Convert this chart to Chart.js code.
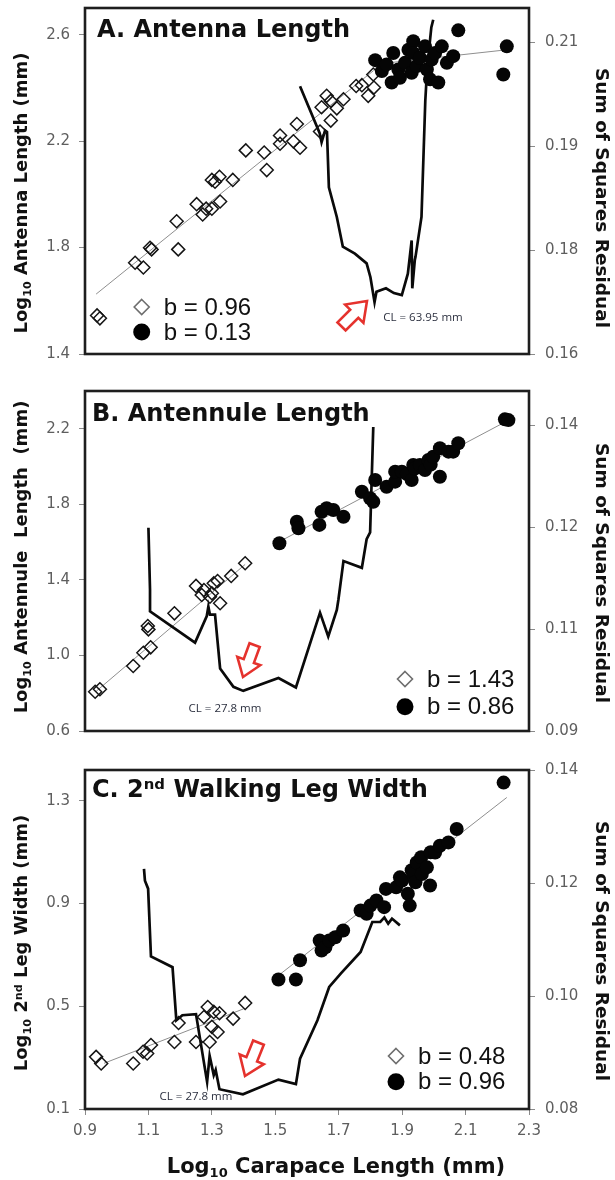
<!DOCTYPE html>
<html>
<head>
<meta charset="utf-8">
<script src="https://cdn.jsdelivr.net/npm/chart.js@4.4.1/dist/chart.umd.min.js"></script>
<style>
  body { margin: 0; background: #fff; }
  #wrap { position: relative; width: 615px; height: 1180px; }
  canvas { position: absolute; left: 0; }
</style>
</head>
<body>
<div id="wrap">
  <canvas id="chartA" width="615" height="370" style="top:0"></canvas>
  <canvas id="chartB" width="615" height="370" style="top:375px"></canvas>
  <canvas id="chartC" width="615" height="425" style="top:755px"></canvas>
</div>
<script>
// shared x axis (log10 carapace length)
const xTicks = [0.9, 1.1, 1.3, 1.5, 1.7, 1.9, 2.1, 2.3]

// A. Antenna length
const aDiamondX = [0.938, 0.947, 1.058, 1.084, 1.105, 1.110, 1.189, 1.194, 1.252, 1.271, 1.282, 1.300, 1.326, 1.300, 1.310, 1.324, 1.366, 1.407, 1.465, 1.473, 1.515, 1.515, 1.557, 1.568, 1.578, 1.641, 1.646, 1.662, 1.675, 1.675, 1.694, 1.715, 1.755, 1.773, 1.793, 1.811, 1.809]
const aDiamondY = [1.545, 1.534, 1.743, 1.725, 1.799, 1.793, 1.899, 1.793, 1.963, 1.924, 1.946, 1.946, 1.973, 2.054, 2.047, 2.066, 2.054, 2.165, 2.157, 2.091, 2.221, 2.190, 2.199, 2.264, 2.175, 2.236, 2.327, 2.370, 2.351, 2.277, 2.323, 2.357, 2.407, 2.410, 2.370, 2.401, 2.450]
const aCircleX = [1.815, 1.836, 1.851, 1.867, 1.872, 1.888, 1.893, 1.909, 1.920, 1.935, 1.930, 1.935, 1.946, 1.956, 1.972, 1.978, 1.988, 1.993, 2.004, 2.014, 2.025, 2.041, 2.061, 2.077, 2.230, 2.219]
const aCircleY = [2.504, 2.463, 2.488, 2.420, 2.531, 2.469, 2.438, 2.494, 2.543, 2.575, 2.457, 2.531, 2.482, 2.513, 2.556, 2.469, 2.432, 2.506, 2.531, 2.420, 2.556, 2.494, 2.519, 2.616, 2.556, 2.450]
const aResidX = [1.578, 1.640, 1.646, 1.657, 1.663, 1.669, 1.694, 1.713, 1.751, 1.788, 1.800, 1.813, 1.819, 1.849, 1.874, 1.899, 1.918, 1.924, 1.930, 1.932, 1.940, 1.942, 1.961, 1.973, 1.979, 1.992, 1.998]
const aResidY = [0.1987, 0.1919, 0.1906, 0.1923, 0.1921, 0.1841, 0.1798, 0.1755, 0.1745, 0.1731, 0.1711, 0.1675, 0.1690, 0.1695, 0.1688, 0.1685, 0.1716, 0.1740, 0.1764, 0.1695, 0.1736, 0.1740, 0.1798, 0.1966, 0.2014, 0.2072, 0.2083]
const aFitDiamond = [[0.935, 1.625], [1.81, 2.465]]
const aFitCircle = [[1.81, 2.488], [2.23, 2.543]]
const aLeftTicks = [1.4, 1.8, 2.2, 2.6]
const aLeftLabels = ['1.4', '1.8', '2.2', '2.6']
const aRightTicks = [0.16, 0.175, 0.19, 0.205]
const aRightLabels = ['0.16', '0.18', '0.19', '0.21']

// B. Antennule length
const bDiamondX = [0.932, 0.947, 1.052, 1.084, 1.107, 1.100, 1.098, 1.182, 1.250, 1.268, 1.294, 1.326, 1.275, 1.300, 1.306, 1.318, 1.361, 1.405]
const bDiamondY = [0.808, 0.821, 0.944, 1.014, 1.043, 1.138, 1.156, 1.223, 1.368, 1.320, 1.311, 1.276, 1.346, 1.329, 1.382, 1.394, 1.421, 1.488]
const bCircleX = [1.513, 1.568, 1.573, 1.639, 1.646, 1.662, 1.683, 1.715, 1.773, 1.799, 1.809, 1.815, 1.851, 1.878, 1.878, 1.899, 1.915, 1.930, 1.935, 1.940, 1.956, 1.972, 1.983, 1.990, 1.998, 2.019, 2.019, 2.046, 2.061, 2.077, 2.224, 2.235]
const bCircleY = [1.594, 1.708, 1.673, 1.691, 1.761, 1.779, 1.770, 1.734, 1.867, 1.832, 1.814, 1.929, 1.893, 1.920, 1.973, 1.973, 1.960, 1.929, 2.008, 1.990, 2.008, 1.982, 2.035, 2.010, 2.052, 1.946, 2.097, 2.079, 2.079, 2.123, 2.250, 2.246]
const bResidX = [1.100, 1.105, 1.105, 1.247, 1.284, 1.289, 1.294, 1.310, 1.326, 1.368, 1.399, 1.510, 1.565, 1.641, 1.667, 1.694, 1.699, 1.715, 1.773, 1.788, 1.799, 1.804, 1.809]
const bResidY = [0.1199, 0.1108, 0.1076, 0.1030, 0.1069, 0.1083, 0.1071, 0.1071, 0.0992, 0.0965, 0.0959, 0.0978, 0.0964, 0.1074, 0.1039, 0.1078, 0.1093, 0.1150, 0.1140, 0.1182, 0.1192, 0.1270, 0.1347]
const bFitDiamond = [[0.935, 0.81], [1.405, 1.482]]
const bFitCircle = [[1.51, 1.60], [2.235, 2.245]]
const bLeftTicks = [0.6, 1.0, 1.4, 1.8, 2.2]
const bLeftLabels = ['0.6', '1.0', '1.4', '1.8', '2.2']
const bRightTicks = [0.09, 0.105, 0.12, 0.135]
const bRightLabels = ['0.09', '0.11', '0.12', '0.14']

// C. 2nd walking leg width
const cDiamondX = [0.935, 0.951, 1.052, 1.083, 1.096, 1.108, 1.182, 1.195, 1.250, 1.293, 1.318, 1.300, 1.306, 1.275, 1.287, 1.324, 1.367, 1.405]
const cDiamondY = [0.303, 0.277, 0.277, 0.323, 0.316, 0.349, 0.361, 0.435, 0.361, 0.361, 0.400, 0.420, 0.478, 0.458, 0.497, 0.473, 0.452, 0.513]
const cCircleX = [1.510, 1.565, 1.578, 1.640, 1.646, 1.658, 1.670, 1.689, 1.714, 1.769, 1.788, 1.800, 1.819, 1.843, 1.849, 1.881, 1.893, 1.900, 1.918, 1.924, 1.930, 1.935, 1.942, 1.946, 1.960, 1.962, 1.978, 1.988, 1.990, 2.004, 2.019, 2.046, 2.072, 2.220]
const cCircleY = [0.604, 0.604, 0.679, 0.756, 0.717, 0.730, 0.756, 0.769, 0.795, 0.873, 0.860, 0.892, 0.912, 0.886, 0.957, 0.963, 1.002, 0.990, 0.938, 0.892, 1.030, 1.015, 0.983, 1.060, 1.080, 1.015, 1.041, 0.970, 1.100, 1.099, 1.125, 1.138, 1.190, 1.371]
const cResidX = [1.086, 1.089, 1.099, 1.108, 1.176, 1.188, 1.207, 1.250, 1.285, 1.293, 1.306, 1.312, 1.324, 1.398, 1.510, 1.565, 1.578, 1.633, 1.670, 1.707, 1.769, 1.806, 1.831, 1.844, 1.856, 1.868, 1.893]
const cResidY = [0.1225, 0.1204, 0.1190, 0.1070, 0.1051, 0.0957, 0.0966, 0.0968, 0.0848, 0.0894, 0.0860, 0.0869, 0.0835, 0.0826, 0.0852, 0.0844, 0.0889, 0.0957, 0.1016, 0.1040, 0.1078, 0.1131, 0.1131, 0.1139, 0.1128, 0.1137, 0.1125]
const cFitDiamond = [[0.96, 0.278], [1.40, 0.49]]
const cFitCircle = [[1.51, 0.62], [2.23, 1.313]]
const cLeftTicks = [0.1, 0.5, 0.9, 1.3]
const cLeftLabels = ['0.1', '0.5', '0.9', '1.3']
const cRightTicks = [0.08, 0.10, 0.12, 0.14]
const cRightLabels = ['0.08', '0.10', '0.12', '0.14']

const TICK_COLOR = '#5e5e5e'
const TICK_FONT = { family: 'DejaVu Sans', size: 15 }

function pts(xs, ys) {
  return xs.map((x, i) => ({ x, y: ys[i] }))
}
function seg(pairs) {
  return pairs.map(p => ({ x: p[0], y: p[1] }))
}

// text with sub/superscript pieces: parts = [[text, 'sub'|'sup'|undefined], ...]
function richText(ctx, parts, x, y, size, family, align, rot) {
  const small = size * 0.62
  const fontOf = p => `bold ${p[1] ? small : size}px "${family}"`
  let w = 0
  parts.forEach(p => { ctx.font = fontOf(p); w += ctx.measureText(p[0]).width })
  ctx.save()
  ctx.translate(x, y)
  ctx.rotate(rot || 0)
  ctx.textBaseline = 'alphabetic'
  ctx.textAlign = 'left'
  ctx.fillStyle = '#111'
  let cx = align === 'center' ? -w / 2 : 0
  const base = size * 0.36
  parts.forEach(p => {
    ctx.font = fontOf(p)
    const dy = p[1] === 'sub' ? size * 0.22 : p[1] === 'sup' ? -size * 0.33 : 0
    ctx.fillText(p[0], cx, base + dy)
    cx += ctx.measureText(p[0]).width
  })
  ctx.restore()
}

function blockArrow(ctx, tx, ty, angle, len) {
  const h = len * 0.5, hw = len * 0.36, sw = len * 0.16
  ctx.save()
  ctx.translate(tx, ty)
  ctx.rotate(angle * Math.PI / 180)
  ctx.beginPath()
  ctx.moveTo(0, 0)
  ctx.lineTo(-h, -hw)
  ctx.lineTo(-h, -sw)
  ctx.lineTo(-len, -sw)
  ctx.lineTo(-len, sw)
  ctx.lineTo(-h, sw)
  ctx.lineTo(-h, hw)
  ctx.closePath()
  ctx.fillStyle = '#fff'
  ctx.fill()
  ctx.strokeStyle = '#e5322d'
  ctx.lineWidth = 2.6
  ctx.lineJoin = 'miter'
  ctx.stroke()
  ctx.restore()
}

// frame, panel title, legend, arrow, CL note and axis titles
const decoPlugin = {
  id: 'deco',
  afterDraw(chart, args, o) {
    const { ctx, chartArea: a } = chart
    ctx.save()
    ctx.strokeStyle = '#1e1e1e'
    ctx.lineWidth = 2.6
    ctx.strokeRect(a.left, a.top, a.right - a.left, a.bottom - a.top)

    richText(ctx, o.title, a.left + o.titleAt[0], a.top + o.titleAt[1], 24, 'DejaVu Sans', 'left', 0)

    // legend
    const [lx, ly] = o.legendAt
    ctx.strokeStyle = '#6e6e6e'
    ctx.lineWidth = 1.6
    ctx.beginPath()
    const d = 7.5
    ctx.moveTo(a.left + lx, a.top + ly - d)
    ctx.lineTo(a.left + lx + d, a.top + ly)
    ctx.lineTo(a.left + lx, a.top + ly + d)
    ctx.lineTo(a.left + lx - d, a.top + ly)
    ctx.closePath()
    ctx.stroke()
    ctx.fillStyle = '#000'
    ctx.beginPath()
    ctx.arc(a.left + lx, a.top + ly + o.legendGap, 8.5, 0, Math.PI * 2)
    ctx.fill()
    ctx.font = '24px "Liberation Sans"'
    ctx.textBaseline = 'middle'
    ctx.textAlign = 'left'
    ctx.fillStyle = '#111'
    ctx.fillText(o.legendText[0], a.left + lx + 22, a.top + ly + 1)
    ctx.fillText(o.legendText[1], a.left + lx + 22, a.top + ly + o.legendGap + 1)

    blockArrow(ctx, a.left + o.arrow[0], a.top + o.arrow[1], o.arrow[2], o.arrow[3])

    ctx.font = '11.5px "Open Sans"'
    ctx.fillStyle = '#2d3140'
    ctx.textAlign = 'center'
    ctx.textBaseline = 'middle'
    ctx.fillText(o.cl, a.left + o.clAt[0], a.top + o.clAt[1])

    richText(ctx, o.leftTitle, 21, a.top + o.leftTitleY, 18, 'DejaVu Sans', 'center', -Math.PI / 2)
    richText(ctx, [['Sum of Squares Residual']], 603, a.top + o.rightTitleY, 18.5, 'DejaVu Sans', 'center', Math.PI / 2)

    if (o.xTitle) {
      richText(ctx, o.xTitle, 336, a.bottom + 56, 21, 'DejaVu Sans', 'center', 0)
    }
    ctx.restore()
  }
}

function fixedTicks(vals) {
  return s => { s.ticks = vals.map(v => ({ value: v })) }
}

function makePanel(id, cfg) {
  const yAxis = (ticks, labels, min, max, pos) => ({
    type: 'linear',
    position: pos,
    min, max,
    afterBuildTicks: fixedTicks(ticks),
    afterFit: s => {
      s.width = pos === 'left' ? 85 : 86
      // labels may overhang; keep the plot box where the layout padding puts it
      s.paddingTop = 0
      s.paddingBottom = 0
    },
    ticks: {
      color: TICK_COLOR,
      font: TICK_FONT,
      padding: pos === 'left' ? 9 : 10,
      callback: (v, i) => labels[i]
    },
    grid: { drawOnChartArea: false, drawTicks: true, tickLength: 6, tickColor: '#8a8a8a' },
    border: { display: false }
  })

  return new Chart(document.getElementById(id), {
    type: 'scatter',
    data: {
      datasets: [
        {
          data: pts(cfg.circleX, cfg.circleY),
          pointStyle: 'circle', pointRadius: 7,
          backgroundColor: '#050505', borderWidth: 0, yAxisID: 'y'
        },
        {
          data: pts(cfg.diamondX, cfg.diamondY),
          pointStyle: 'rectRot', pointRadius: 6.5,
          backgroundColor: 'rgba(255,255,255,0)', borderColor: '#151515', borderWidth: 1.5, yAxisID: 'y'
        },
        {
          data: pts(cfg.residX, cfg.residY),
          showLine: true, pointRadius: 0, tension: 0,
          borderColor: '#0a0a0a', borderWidth: 2.7, yAxisID: 'y2'
        },
        {
          data: seg(cfg.fitDiamond),
          showLine: true, pointRadius: 0,
          borderColor: '#8e8e8e', borderWidth: 1, yAxisID: 'y'
        },
        {
          data: seg(cfg.fitCircle),
          showLine: true, pointRadius: 0,
          borderColor: '#8e8e8e', borderWidth: 1, yAxisID: 'y'
        }
      ]
    },
    options: {
      responsive: false,
      animation: false,
      events: [],
      layout: { padding: cfg.padding },
      scales: {
        x: {
          type: 'linear',
          min: 0.9, max: 2.3,
          display: !!cfg.showX,
          afterBuildTicks: fixedTicks(xTicks),
          afterFit: s => { s.height = cfg.showX ? 71 : 0 },
          ticks: { color: TICK_COLOR, font: TICK_FONT, padding: 7, callback: v => v.toFixed(1) },
          grid: { drawOnChartArea: false, drawTicks: true, tickLength: 6, tickColor: '#8a8a8a' },
          border: { display: false }
        },
        y: yAxis(cfg.leftTicks, cfg.leftLabels, cfg.leftMin, cfg.leftMax, 'left'),
        y2: yAxis(cfg.rightTicks, cfg.rightLabels, cfg.rightMin, cfg.rightMax, 'right')
      },
      plugins: {
        legend: { display: false },
        tooltip: { enabled: false },
        deco: cfg.deco
      }
    },
    plugins: [decoPlugin]
  })
}

makePanel('chartA', {
  diamondX: aDiamondX, diamondY: aDiamondY,
  circleX: aCircleX, circleY: aCircleY,
  residX: aResidX, residY: aResidY,
  fitDiamond: aFitDiamond, fitCircle: aFitCircle,
  leftTicks: aLeftTicks, leftLabels: aLeftLabels, leftMin: 1.4, leftMax: 2.7,
  rightTicks: aRightTicks, rightLabels: aRightLabels, rightMin: 0.16, rightMax: 0.21,
  padding: { top: 6, bottom: 16, left: 0, right: 0 },
  deco: {
    title: [['A. Antenna Length']], titleAt: [12, 20],
    legendAt: [56.7, 299], legendGap: 25, legendText: ['b = 0.96', 'b = 0.13'],
    arrow: [282, 293, -45, 36],
    cl: 'CL = 63.95 mm', clAt: [338, 310],
    leftTitle: [['Log'], ['10', 'sub'], [' Antenna Length (mm)']], leftTitleY: 185,
    rightTitleY: 190
  }
})

makePanel('chartB', {
  diamondX: bDiamondX, diamondY: bDiamondY,
  circleX: bCircleX, circleY: bCircleY,
  residX: bResidX, residY: bResidY,
  fitDiamond: bFitDiamond, fitCircle: bFitCircle,
  leftTicks: bLeftTicks, leftLabels: bLeftLabels, leftMin: 0.6, leftMax: 2.4,
  rightTicks: bRightTicks, rightLabels: bRightLabels, rightMin: 0.09, rightMax: 0.14,
  padding: { top: 16, bottom: 14, left: 0, right: 0 },
  deco: {
    title: [['B. Antennule Length']], titleAt: [7, 21],
    legendAt: [320, 288], legendGap: 27.7, legendText: ['b = 1.43', 'b = 0.86'],
    arrow: [158, 286, 110, 34],
    cl: 'CL = 27.8 mm', clAt: [140, 318],
    leftTitle: [['Log'], ['10', 'sub'], [' Antennule  Length  (mm)']], leftTitleY: 166,
    rightTitleY: 182
  }
})

makePanel('chartC', {
  diamondX: cDiamondX, diamondY: cDiamondY,
  circleX: cCircleX, circleY: cCircleY,
  residX: cResidX, residY: cResidY,
  fitDiamond: cFitDiamond, fitCircle: cFitCircle,
  leftTicks: cLeftTicks, leftLabels: cLeftLabels, leftMin: 0.1, leftMax: 1.42,
  rightTicks: cRightTicks, rightLabels: cRightLabels, rightMin: 0.08, rightMax: 0.14,
  padding: { top: 15, bottom: 0, left: 0, right: 0 },
  showX: true,
  deco: {
    title: [['C. 2'], ['nd', 'sup'], [' Walking Leg Width']], titleAt: [7, 18],
    legendAt: [311, 286], legendGap: 25.7, legendText: ['b = 0.48', 'b = 0.96'],
    arrow: [160, 306, 112, 36],
    cl: 'CL = 27.8 mm', clAt: [111, 327],
    leftTitle: [['Log'], ['10', 'sub'], [' 2'], ['nd', 'sup'], [' Leg Width (mm)']], leftTitleY: 173,
    rightTitleY: 181,
    xTitle: [['Log'], ['10', 'sub'], [' Carapace Length (mm)']]
  }
})
</script>
</body>
</html>
